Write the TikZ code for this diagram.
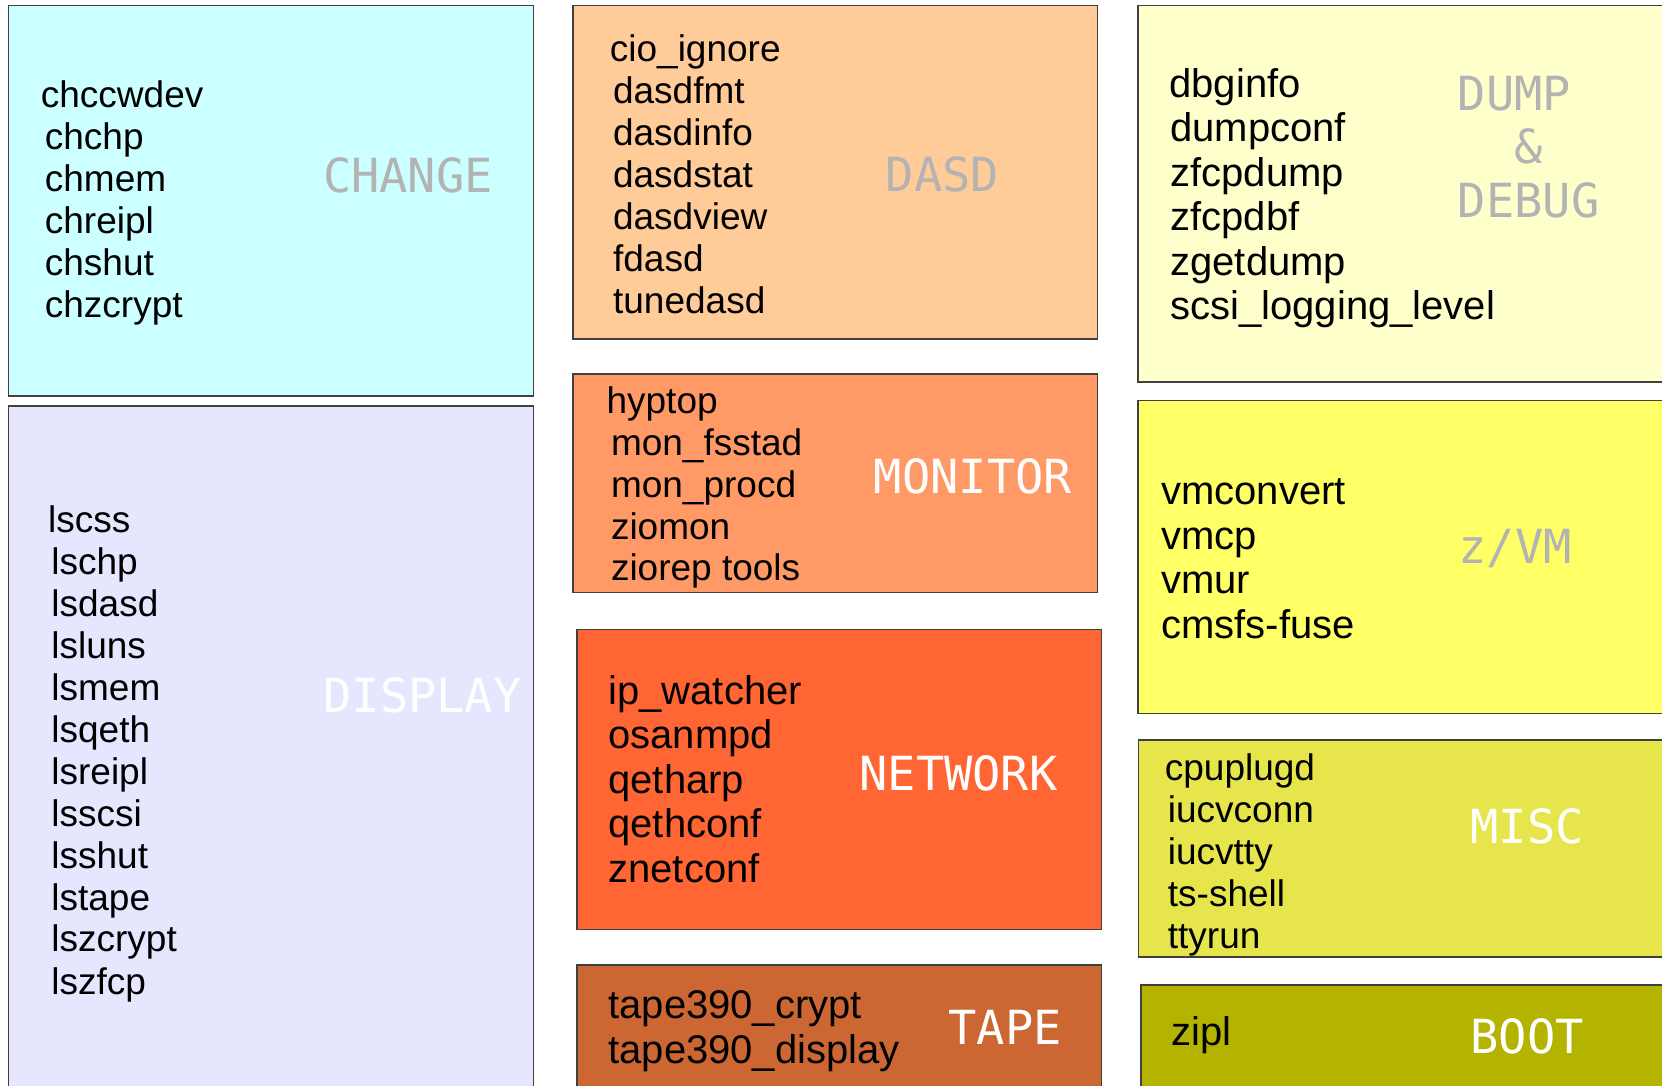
\documentclass[tikz,border=0pt]{standalone}
\usepackage{fontspec}
\setmainfont{Liberation Sans}
\setmonofont{DejaVu Sans Mono}

% box fills
\definecolor{chgfill}{HTML}{CCFFFF}
\definecolor{dispfill}{HTML}{E6E6FF}
\definecolor{dasdfill}{HTML}{FFCC99}
\definecolor{monfill}{HTML}{FF9966}
\definecolor{netfill}{HTML}{FF6633}
\definecolor{tapefill}{HTML}{CC6633}
\definecolor{dumpfill}{HTML}{FFFFCC}
\definecolor{vmfill}{HTML}{FFFF66}
\definecolor{miscfill}{HTML}{E6E64C}
\definecolor{bootfill}{HTML}{B3B300}
\definecolor{boxline}{HTML}{404040}
\definecolor{greylabel}{HTML}{B3B3B3}

% font sizes (1px = 0.5pt)
\newcommand\toolfont{\fontsize{18.5}{21}\selectfont}
\newcommand\widetoolfont{\fontsize{20}{22.25}\selectfont}
\newcommand\catfont{\fontsize{23.5}{26.75}\selectfont\ttfamily}
\newcommand\toollines[1]{\begin{tabular}[t]{@{}l@{}}#1\end{tabular}}

\begin{document}
\begin{tikzpicture}[x=0.5pt,y=-0.5pt,
  group/.style={draw=boxline,line width=0.7pt},
  tools/.style={anchor=base west,inner sep=0pt,font=\toolfont},
  widetools/.style={anchor=base west,inner sep=0pt,font=\widetoolfont},
  cat/.style={anchor=base,inner sep=0pt,font=\catfont},
  greycat/.style={cat,text=greylabel},
  whitecat/.style={cat,text=white}]
\useasboundingbox (0,0) rectangle (1662,1086);

% category boxes
\path[group,fill=chgfill]  (8.5,5.3)   rectangle (533.3,396);
\path[group,fill=dispfill] (8.5,406)   rectangle (533.3,1100);
\path[group,fill=dasdfill] (573,5.3)   rectangle (1097.7,339);
\path[group,fill=monfill]  (573,374)   rectangle (1097.7,592.5);
\path[group,fill=netfill]  (577,629.6) rectangle (1101.7,929.3);
\path[group,fill=tapefill] (577,965)   rectangle (1101.7,1100);
\path[group,fill=dumpfill] (1138,5.3)  rectangle (1680,382);
\path[group,fill=vmfill]   (1138,400.7) rectangle (1680,713.4);
\path[group,fill=miscfill] (1138.7,740) rectangle (1680,957);
\path[group,fill=bootfill] (1141,985)  rectangle (1680,1100);

% tool lists
\node[tools] (chgtools) at (44.5,108) {\toollines{\hspace*{-2pt}chccwdev\\chchp\\chmem\\chreipl\\chshut\\chzcrypt}};
\node[tools] (disptools) at (51,532) {\toollines{\hspace*{-1.6pt}lscss\\lschp\\lsdasd\\lsluns\\lsmem\\lsqeth\\lsreipl\\lsscsi\\lsshut\\lstape\\lszcrypt\\lszfcp}};
\node[tools] (dasdtools) at (612.7,62) {\toollines{\hspace*{-1.6pt}cio\_ignore\\dasdfmt\\dasdinfo\\dasdstat\\dasdview\\fdasd\\tunedasd}};
\node[tools] (montools) at (610.6,413) {\toollines{\hspace*{-2.2pt}hyptop\\mon\_fsstad\\mon\_procd\\ziomon\\ziorep tools}};
\node[widetools] (nettools) at (608,704) {\toollines{ip\_watcher\\osanmpd\\qetharp\\qethconf\\znetconf}};
\node[widetools] (tapetools) at (608,1018.5) {\toollines{tape390\_crypt\\tape390\_display}};
\node[widetools] (dumptools) at (1170,97.4) {\toollines{\hspace*{-0.5pt}dbginfo\\dumpconf\\zfcpdump\\zfcpdbf\\zgetdump\\scsi\_logging\_level}};
\node[widetools] (vmtools) at (1161,504.5) {\toollines{vmconvert\\vmcp\\vmur\\cmsfs-fuse}};
\node[tools] (misctools) at (1167.5,780.5) {\toollines{\hspace*{-1.5pt}cpuplugd\\iucvconn\\iucvtty\\ts-shell\\ttyrun}};
\node[widetools] (boottools) at (1171,1045) {zipl};

% category names
\node[greycat]  (chgname)  at (408,192)  {CHANGE};
\node[whitecat] (dispname) at (422.5,712.5)  {DISPLAY};
\node[greycat]  (dasdname) at (942.5,191.5)  {DASD};
\node[whitecat] (monname)  at (973,493.5)  {MONITOR};
\node[whitecat] (netname)  at (958.5,790)  {NETWORK};
\node[whitecat] (tapename) at (1005,1044) {TAPE};
\node[greycat,anchor=base west] (dumpname) at (1457.5,110.5) {\toollines{DUMP\\\hspace*{1.204em}\&\\DEBUG}};
\node[greycat]  (vmname)   at (1515,563) {z/VM};
\node[whitecat] (miscname) at (1527,843) {MISC};
\node[whitecat] (bootname) at (1527,1053) {BOOT};
\end{tikzpicture}
\end{document}
